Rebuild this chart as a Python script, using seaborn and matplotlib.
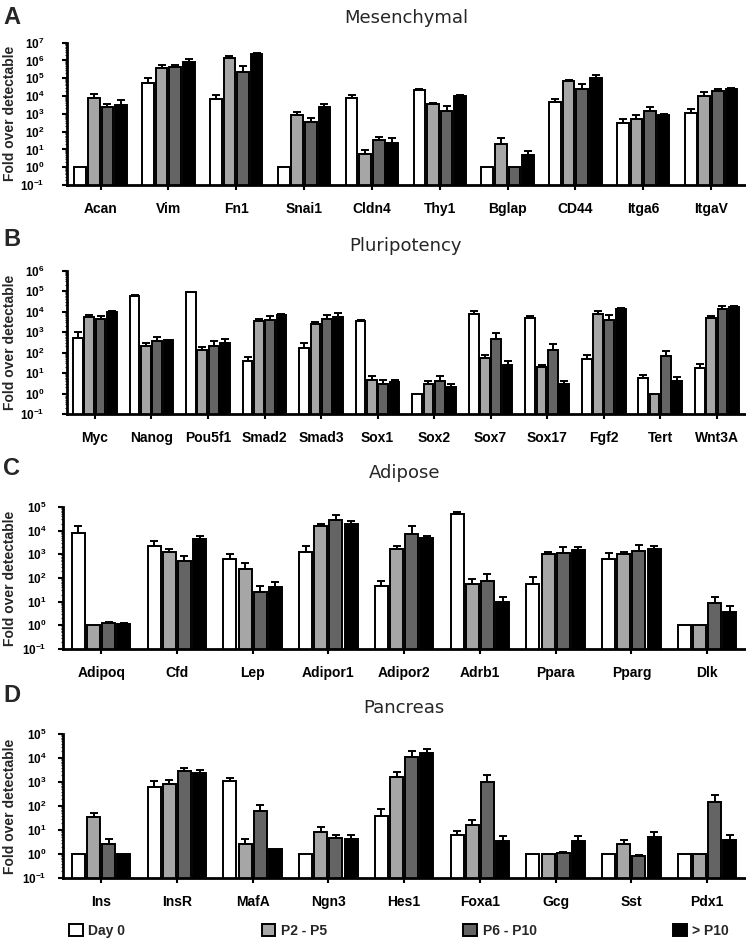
import numpy as np
import pandas as pd
import matplotlib
matplotlib.use("Agg")
import matplotlib.pyplot as plt
import seaborn as sns
from matplotlib.ticker import FixedLocator, FixedFormatter, LogLocator, NullFormatter

# ---------------- data ----------------
stages = ["Day 0", "P2 - P5", "P6 - P10", "> P10"]
stage_colors = ["#ffffff", "#a6a6a6", "#646464", "#000000"]

# Panel A - Mesenchymal
mes_genes = ["Acan", "Vim", "Fn1", "Snai1", "Cldn4", "Thy1", "Bglap", "CD44", "Itga6", "ItgaV"]
mes_day0 = [1, 5.6e4, 6.5e3, 1, 8e3, 2.3e4, 1, 4.6e3, 300, 1.1e3]
mes_day0_hi = [1, 1e5, 1.15e4, 1, 1.1e4, 2.6e4, 1, 7e3, 500, 1.8e3]
mes_p2 = [7.4e3, 4e5, 1.4e6, 850, 5.5, 3.5e3, 20, 7.2e4, 520, 9.6e3]
mes_p2_hi = [1.35e4, 5.6e5, 1.9e6, 1.3e3, 9.6, 4.2e3, 43, 8e4, 850, 1.7e4]
mes_p6 = [2.5e3, 4.3e5, 2.4e5, 360, 33, 1.5e3, 1, 2.6e4, 1.5e3, 2e4]
mes_p6_hi = [3.8e3, 5.7e5, 4.9e5, 570, 51, 2.9e3, 1, 4.5e4, 2.4e3, 2.5e4]
mes_p10 = [3.3e3, 8.1e5, 2.4e6, 2.3e3, 22, 1e4, 4.8, 1.1e5, 870, 2.5e4]
mes_p10_hi = [5.8e3, 1.15e6, 2.7e6, 3.5e3, 42, 1.2e4, 7.7, 1.5e5, 1e3, 2.9e4]

# Panel B - Pluripotency
plu_genes = ["Myc", "Nanog", "Pou5f1", "Smad2", "Smad3", "Sox1", "Sox2", "Sox7", "Sox17", "Fgf2", "Tert", "Wnt3A"]
plu_day0 = [540, 5.9e4, 9.3e4, 41, 175, 3.5e3, 1, 8e3, 5.1e3, 50, 5.6, 18]
plu_day0_hi = [1000, 6.4e4, 9.6e4, 60, 300, 3.9e3, 1, 1.1e4, 6.1e3, 80, 8.5, 28]
plu_p2 = [5.5e3, 210, 140, 3.5e3, 2.6e3, 4.8, 2.8, 55, 19.5, 8e3, 1, 5e3]
plu_p2_hi = [6.6e3, 300, 190, 4.6e3, 3.2e3, 7, 4, 80, 26, 1.1e4, 1, 6e3]
plu_p6 = [4.2e3, 360, 210, 4.1e3, 4.6e3, 3, 4, 440, 140, 4e3, 68, 1.4e4]
plu_p6_hi = [5.8e3, 600, 350, 6.1e3, 6.6e3, 4.4, 7, 870, 270, 6.6e3, 125, 1.9e4]
plu_p10 = [9.8e3, 400, 300, 6.6e3, 5.5e3, 3.5, 2, 26, 2.8, 1.4e4, 4, 1.6e4]
plu_p10_hi = [1.05e4, 420, 440, 7.4e3, 8.3e3, 4.8, 2.9, 41, 4, 1.45e4, 6.3, 1.8e4]

# Panel C - Adipose
adi_genes = ["Adipoq", "Cfd", "Lep", "Adipor1", "Adipor2", "Adrb1", "Ppara", "Pparg", "Dlk"]
adi_day0 = [8.3e3, 2.2e3, 640, 1.3e3, 46, 5.3e4, 55, 640, 1]
adi_day0_hi = [1.5e4, 3.5e3, 1e3, 2.3e3, 75, 6.2e4, 110, 1.1e3, 1]
adi_p2 = [1, 1.2e3, 230, 1.6e4, 1.7e3, 55, 1e3, 1.07e3, 1]
adi_p2_hi = [1, 1.7e3, 410, 2e4, 2.3e3, 90, 1.3e3, 1.25e3, 1]
adi_p6 = [1.2, 510, 25, 2.8e4, 7.2e3, 75, 1.1e3, 1.4e3, 8.5]
adi_p6_hi = [1.4, 830, 46, 4.5e4, 1.5e4, 150, 2e3, 2.5e3, 15]
adi_p10 = [1.1, 4.3e3, 42, 2e4, 4.8e3, 9.4, 1.6e3, 1.7e3, 3.6]
adi_p10_hi = [1.2, 6.2e3, 68, 2.6e4, 6e3, 15, 2e3, 2.3e3, 6.3]

# Panel D - Pancreas
pan_genes = ["Ins", "InsR", "MafA", "Ngn3", "Hes1", "Foxa1", "Gcg", "Sst", "Pdx1"]
pan_day0 = [1, 600, 1.07e3, 1, 40, 6, 1, 1, 1]
pan_day0_hi = [1, 1.07e3, 1.5e3, 1, 75, 9, 1, 1, 1]
pan_p2 = [34, 860, 2.6, 8, 1.6e3, 15.5, 1, 2.6, 1]
pan_p2_hi = [51, 1.25e3, 4.4, 13, 2.5e3, 27, 1, 4, 1]
pan_p6 = [2.6, 2.9e3, 60, 4.6, 1.07e4, 970, 1.12, 0.8, 147]
pan_p6_hi = [4.4, 4e3, 107, 6.3, 2e4, 2e3, 1.2, 0.9, 295]
pan_p10 = [1, 2.4e3, 1.6, 4.4, 1.6e4, 3.4, 3.4, 4.9, 3.7]
pan_p10_hi = [1, 3.1e3, 1.6, 6.3, 2.4e4, 5.5, 5.8, 8, 6.3]

# ---------------- style ----------------
sns.set_theme(style="ticks")
plt.rcParams["font.family"] = ["Liberation Sans", "DejaVu Sans"]
plt.rcParams["mathtext.fontset"] = "custom"
plt.rcParams["mathtext.rm"] = "Liberation Sans"
plt.rcParams["mathtext.bf"] = "Liberation Sans:bold"
plt.rcParams["mathtext.it"] = "Liberation Sans:italic"

W, H = 746, 944
fig = plt.figure(figsize=(W / 100, H / 100), dpi=100)


def rect(left, top, right, bottom):
    return [left / W, 1 - bottom / H, (right - left) / W, (bottom - top) / H]


def panel(box, letter, letter_top, title, title_base, genes, series, highs, top_exp, ypad):
    ax = fig.add_axes(rect(*box))
    df = pd.DataFrame({
        "gene": list(genes) * len(stages),
        "stage": np.repeat(stages, len(genes)),
        "value": np.concatenate([np.asarray(s, float) for s in series]),
    })
    sns.barplot(data=df, x="gene", y="value", hue="stage", order=genes, hue_order=stages,
                palette=stage_colors, edgecolor="black", linewidth=1.4, width=0.8, gap=0.14,
                errorbar=None, legend=False, saturation=1, ax=ax)
    ax.set_yscale("log")
    # error bars (upper only)
    for cont, vals, hi in zip(ax.containers, series, highs):
        xs = np.array([p.get_x() + p.get_width() / 2 for p in cont.patches])
        v = np.asarray(vals, float)
        h = np.asarray(hi, float)
        m = h > v * 1.02
        if m.any():
            ax.errorbar(xs[m], v[m], yerr=[np.zeros(m.sum()), (h - v)[m]], fmt="none",
                        ecolor="black", elinewidth=1.4, capsize=2.8, capthick=1.4, zorder=3)
    ax.set_ylim(0.1, 10.0 ** top_exp)
    ax.set_xlim(-0.5, len(genes) - 0.5)
    exps = list(range(-1, top_exp + 1))
    ax.yaxis.set_major_locator(FixedLocator([10.0 ** e for e in exps]))
    ax.yaxis.set_major_formatter(FixedFormatter([r"$\mathbf{10^{%d}}$" % e for e in exps]))
    ax.yaxis.set_minor_locator(LogLocator(base=10, subs=np.arange(2, 10), numticks=50))
    ax.yaxis.set_minor_formatter(NullFormatter())
    ax.tick_params(axis="y", which="major", length=3.5, width=1.5, labelsize=8.5, pad=ypad, colors="black")
    ax.tick_params(axis="y", which="minor", length=1.8, width=0.9)
    ax.tick_params(axis="x", which="major", length=3.5, width=1.5, labelsize=10, pad=8.5, colors="black")
    for lab in ax.get_xticklabels():
        lab.set_fontweight("bold")
    ax.set_xlabel("")
    ax.set_ylabel("")
    for s in ["top", "right"]:
        ax.spines[s].set_visible(False)
    for s in ["left", "bottom"]:
        ax.spines[s].set_linewidth(2.0)
        ax.spines[s].set_color("black")
    ax.set_facecolor("white")
    left, top, right, bottom = box
    cx = (left + right) / 2 / W
    fig.text(cx, 1 - title_base / H, title, ha="center", va="baseline", fontsize=13,
             family=["DejaVu Sans"])
    fig.text(3 / W, 1 - letter_top / H, letter, ha="left", va="top", fontsize=17, fontweight="bold")
    fig.text(10 / W, 1 - (top + bottom) / 2 / H, "Fold over detectable", rotation=90,
             ha="center", va="center", fontsize=10, fontweight="bold")
    return ax


axA = panel((66.7, 42.7, 745, 185), "A", 6, "Mesenchymal", 23, mes_genes,
            [mes_day0, mes_p2, mes_p6, mes_p10], [mes_day0_hi, mes_p2_hi, mes_p6_hi, mes_p10_hi], 7, 12.5)
axB = panel((66.7, 270.7, 745, 414), "B", 228, "Pluripotency", 251, plu_genes,
            [plu_day0, plu_p2, plu_p6, plu_p10], [plu_day0_hi, plu_p2_hi, plu_p6_hi, plu_p10_hi], 6, 12.5)
axC = panel((63.3, 507, 745, 649), "C", 457, "Adipose", 478, adi_genes,
            [adi_day0, adi_p2, adi_p6, adi_p10], [adi_day0_hi, adi_p2_hi, adi_p6_hi, adi_p10_hi], 5, 8.5)
axD = panel((63.3, 734, 745, 878), "D", 684, "Pancreas", 713, pan_genes,
            [pan_day0, pan_p2, pan_p6, pan_p10], [pan_day0_hi, pan_p2_hi, pan_p6_hi, pan_p10_hi], 5, 8.5)

handles = list(axD.containers[:4])
leg = fig.legend(handles, stages, loc="center left", bbox_to_anchor=(69 / W, 1 - 931 / H),
                 bbox_transform=fig.transFigure, ncol=4, frameon=False, columnspacing=9.8,
                 handlelength=1.0, handleheight=0.9, handletextpad=0.4, borderpad=0,
                 borderaxespad=0, prop={"weight": "bold", "size": 10})

fig.savefig("out.png", dpi=100, facecolor="white")
